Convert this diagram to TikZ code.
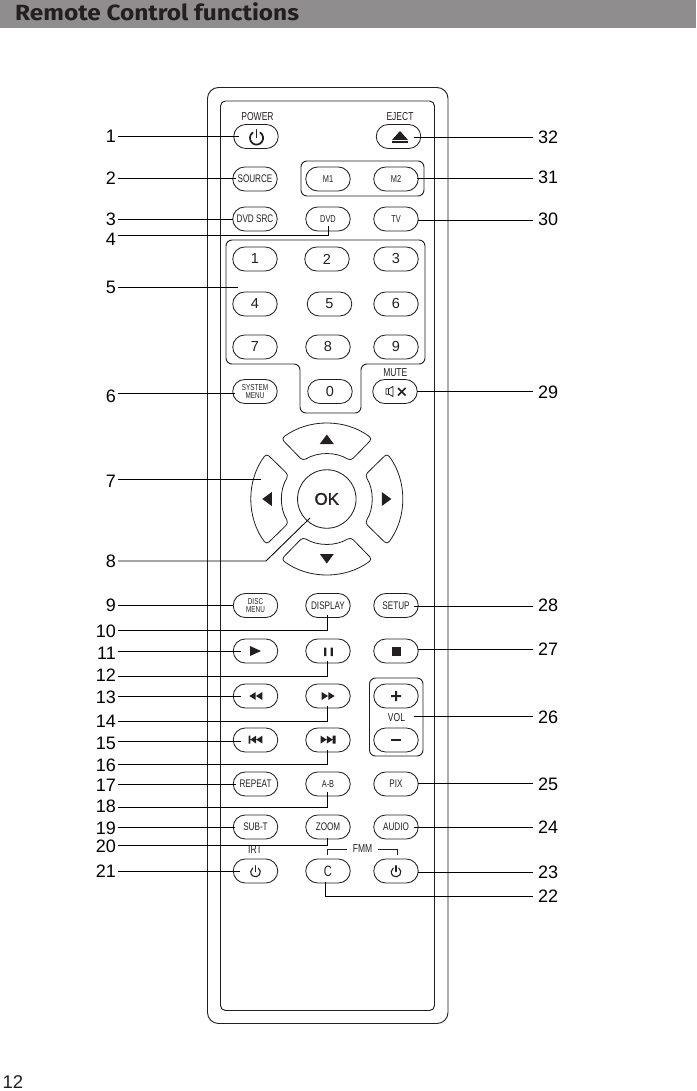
\documentclass[tikz,border=0pt]{standalone}
\usepackage{fontspec}
\setmainfont{Liberation Sans}
\newfontfamily\nar[FakeStretch=0.74]{Liberation Sans}
\newfontfamily\hdr[FakeStretch=1.11]{Fira Sans}
\newfontfamily\okf[FakeBold=1.3]{Liberation Sans}
\usetikzlibrary{shapes.misc}
\definecolor{ink}{HTML}{231F20}
\definecolor{bar}{HTML}{8F8D8E}
\tikzset{
  btn/.style={draw=ink,line width=0.85pt,rounded rectangle,minimum width=44.5pt,minimum height=24pt,inner sep=0pt,text=ink,font=\nar\fontsize{11}{11}\selectfont},
  small/.style={font=\nar\fontsize{10}{10}\selectfont},
  tiny/.style={align=center,font=\nar\fontsize{8.6}{8.6}\selectfont},
  digit/.style={font=\fontsize{14.5}{15}\selectfont},
  caption/.style={inner sep=0pt,text=ink,font=\nar\fontsize{11.5}{11.5}\selectfont},
  num/.style={inner sep=0pt,text=black,font=\fontsize{18}{18}\selectfont},
  lead/.style={draw=black,line width=0.85pt},
  shell/.style={draw=ink,line width=0.95pt},
  fillk/.style={fill=ink,draw=none},
  dp/.style={draw=ink,line width=0.8pt,rounded corners=3.5pt,line join=round}
}
% left label: name, text, label y, line y, end x
\newcommand{\LL}[5]{\node[num,anchor=east] (l#1) at (116,#3) {#2};
  \coordinate (e#1) at (#5,#4);
  \draw[lead] (118,#4) -- (e#1);}
% left label with elbow: name, text, label y, line y, end x, end y
\newcommand{\LE}[6]{\node[num,anchor=east] (l#1) at (116,#3) {#2};
  \coordinate (e#1) at (#5,#6);
  \draw[lead] (118,#4) -| (e#1);}
% right label
\newcommand{\RL}[5]{\node[num,anchor=west] (l#1) at (538,#3) {#2};
  \coordinate (e#1) at (#5,#4);
  \draw[lead] (533,#4) -- (e#1);}
\newcommand{\pwr}[4]{\begin{scope}[shift={(#1,#2)},y=1pt]
  \draw[ink,line width=#4,line cap=round] (55:#3) arc[start angle=55,end angle=-235,radius=#3];
  \draw[ink,line width=#4,line cap=round] (0,#3+1.5) -- (0,0.5);
\end{scope}}
\begin{document}
\begin{tikzpicture}[x=1pt,y=-1pt]
\useasboundingbox (0,0) rectangle (696,1091);
\fill[bar] (0,0) rectangle (696,28);
\node[anchor=west,inner sep=0pt,text=ink,font=\hdr\bfseries\fontsize{22}{23}\selectfont] (title) at (15,12) {Remote Control functions};
\node[anchor=west,inner sep=0pt,text=ink,font=\fontsize{18.5}{19}\selectfont] (page) at (2.5,1082.5) {12};

% shell
\draw[shell,rounded corners=11pt] (207.5,87.5) rectangle (448,1023.5);
\draw[shell,rounded corners=5pt] (220.5,101) rectangle (434.5,1010.5);
% groups
\draw[shell,rounded corners=6pt] (301,161) rectangle (424,196);
\draw[shell,rounded corners=6pt] (369.5,678) rectangle (423,756);
\draw[shell,rounded corners=6pt] (226,240) -- (425,240) -- (425,364) -- (361,364) -- (361,413) -- (300,413) -- (300,364) -- (226,364) -- cycle;

% buttons
\node[btn] (power) at (256,136.5) {};
\node[btn] (eject) at (398.5,136.5) {};
\node[btn] (source) at (255,179) {SOURCE};
\node[btn,small] (m1) at (328,179) {M1};
\node[btn,small] (m2) at (396,179) {M2};
\node[btn] (dvdsrc) at (255,219) {DVD SRC};
\node[btn,small] (dvd) at (328,219) {DVD};
\node[btn,small] (tv) at (396,219) {TV};
\node[btn,digit] (k1) at (255,259) {1};
\node[btn,digit] (k2) at (327,259) {2};
\node[btn,digit] (k3) at (396,259) {3};
\node[btn,digit] (k4) at (255,304) {4};
\node[btn,digit] (k5) at (329.5,304) {5};
\node[btn,digit] (k6) at (396,304) {6};
\node[btn,digit] (k7) at (255,347) {7};
\node[btn,digit] (k8) at (328,347) {8};
\node[btn,digit] (k9) at (396,347) {9};
\node[btn,digit] (k0) at (330,391.5) {0};
\node[btn,tiny] (sysmenu) at (255,391.5) {SYSTEM\\MENU};
\node[btn] (mute) at (395,391.5) {};
\node[btn,tiny] (discmenu) at (255.5,605.5) {DISC\\MENU};
\node[btn] (display) at (328,605.5) {DISPLAY};
\node[btn] (setup) at (396,605.5) {SETUP};
\node[btn] (play) at (255.5,651) {};
\node[btn] (pause) at (328,651) {};
\node[btn] (stop) at (396,651) {};
\node[btn] (rew) at (255.5,696) {};
\node[btn] (ff) at (328,696) {};
\node[btn] (volp) at (396,696) {};
\node[btn] (prev) at (255.5,740) {};
\node[btn] (next) at (328,740) {};
\node[btn] (volm) at (396,740) {};
\node[btn] (repeat) at (255.5,784) {REPEAT};
\node[btn,small] (ab) at (328,784) {A-B};
\node[btn] (pix) at (396,784) {PIX};
\node[btn] (subt) at (255.5,827) {SUB-T};
\node[btn] (zoom) at (328,827) {ZOOM};
\node[btn] (audio) at (396,827) {AUDIO};
\node[btn] (irt) at (255.5,871) {};
\node[btn,font=\nar\fontsize{15}{15}\selectfont] (c) at (328,871) {C};
\node[btn] (fmmp) at (396,871) {};

% captions
\node[caption] (cpower) at (257.5,117) {POWER};
\node[caption] (ceject) at (400,117) {EJECT};
\node[caption] (cmute) at (395.3,372.6) {MUTE};
\node[caption] (cvol) at (396.5,718) {VOL};
\node[caption] (cirt) at (255,850) {IRT};
\node[caption] (cfmm) at (362.5,849) {FMM};
\draw[ink,line width=0.75pt] (327.7,855) -- (327.7,849.5) -- (347,849.5);
\draw[ink,line width=0.75pt] (378,849.5) -- (397,849.5) -- (397,855);

% icons
\pwr{256.5}{138}{6.6}{1.7pt}
\pwr{255.5}{872}{4.8}{1.1pt}
\pwr{396}{872}{4.8}{1.1pt}
\fill[fillk] (400,131) -- (408,140) -- (392,140) -- cycle;
\fill[fillk] (392,141.5) rectangle (408,143.5);
% mute
\draw[ink,line width=0.8pt,line join=round] (386,388.8) -- (388.8,388.8) -- (393,386.5) -- (393,396.5) -- (388.8,394.2) -- (386,394.2) -- cycle;
\draw[ink,line width=0.8pt] (388.8,388.8) -- (388.8,394.2);
\draw[ink,line width=1.7pt] (398,388) -- (405.5,395.5) (405.5,388) -- (398,395.5);
% transport
\fill[fillk] (250,646) -- (261,651) -- (250,656) -- cycle;
\fill[fillk] (324,647.5) rectangle (326.3,656) (330.5,647.5) rectangle (332.8,656);
\fill[fillk] (392,647) rectangle (401,656);
\fill[fillk] (255.7,692) -- (249.3,696) -- (255.7,700) -- cycle (262.3,692) -- (256,696) -- (262.3,700) -- cycle;
\fill[fillk] (321.7,692) -- (328,696) -- (321.7,700) -- cycle (328.3,692) -- (334.7,696) -- (328.3,700) -- cycle;
\fill[fillk] (248.7,735.7) rectangle (250.4,743.5) (256,735.7) -- (250.4,739.6) -- (256,743.5) -- cycle (262.3,735.7) -- (256.2,739.6) -- (262.3,743.5) -- cycle;
\fill[fillk] (320.7,735.7) -- (326.7,739.6) -- (320.7,743.5) -- cycle (326.9,735.7) -- (332.7,739.6) -- (326.9,743.5) -- cycle (332.7,735.7) rectangle (335.7,743.5);
\fill[fillk] (391,695) rectangle (401,697) (395,691) rectangle (397,701);
\fill[fillk] (391,739.2) rectangle (401,741);

% d-pad
\node[draw=ink,line width=0.85pt,circle,minimum size=58.5pt,inner sep=0pt,text=ink,font=\okf\fontsize{17}{17}\selectfont] (ok) at (326.8,499) {OK};
\begin{scope}[shift={(326.8,499)},y=1pt]
\foreach \a/\n in {0/up,90/left,180/down,270/right}{
  \begin{scope}[rotate=\a]
    \draw[dp] (90+37:75.5) arc[start angle=90+37,end angle=90-37,radius=75.5] -- (90-32:45) arc[start angle=90-32,end angle=90+32,radius=45] -- cycle;
    \fill[fillk] (0,64.5) -- (7,55) -- (-7,55) -- cycle;
    \coordinate (pad\n) at (0,60);
  \end{scope}}
\end{scope}

% connectors left
\LL{1}{1}{136}{136}{239}
\LL{2}{2}{178}{178}{236}
\LL{3}{3}{219}{219}{233}
\LE{4}{4}{239}{235}{328}{226.5}
\LL{5}{5}{287}{287}{238}
\LL{6}{6}{396}{393}{235}
\LL{7}{7}{481}{479.5}{261}
\node[num,anchor=east] (l8) at (116,561) {8};
\coordinate (k8a) at (266,561);
\coordinate (e8) at (310,518);
\draw[lead] (118,561) -- (k8a) -- (e8);
\LL{9}{9}{605}{605}{233}
\LE{10}{10}{631}{630}{327.5}{615}
\LL{11}{11}{653}{651}{241}
\LE{12}{12}{675}{676}{327.5}{661}
\LL{13}{13}{697}{696.5}{241}
\LE{14}{14}{721}{721}{327.5}{706}
\LL{15}{15}{743}{741.5}{241}
\LE{16}{16}{765}{764.5}{327.5}{750}
\LL{17}{17}{785}{784.3}{236}
\LE{18}{18}{806}{807}{327.5}{792}
\LL{19}{19}{828}{827.3}{235}
\LE{20}{20}{846}{845}{327.5}{838}
\LL{21}{21}{871}{871}{240}
% connectors right
\RL{32}{32}{137}{137}{414}
\RL{31}{31}{177}{178}{417}
\RL{30}{30}{219}{220}{418}
\RL{29}{29}{392}{391}{417}
\RL{28}{28}{605}{606}{414}
\RL{27}{27}{649}{649.7}{418}
\RL{26}{26}{717}{716.7}{414}
\RL{25}{25}{784}{783.7}{418}
\RL{24}{24}{827}{827}{414}
\RL{23}{23}{872}{872.7}{418}
\node[num,anchor=west] (l22) at (538,896) {22};
\coordinate (e22) at (325,882);
\draw[lead] (533,896) -| (e22);
\end{tikzpicture}
\end{document}
